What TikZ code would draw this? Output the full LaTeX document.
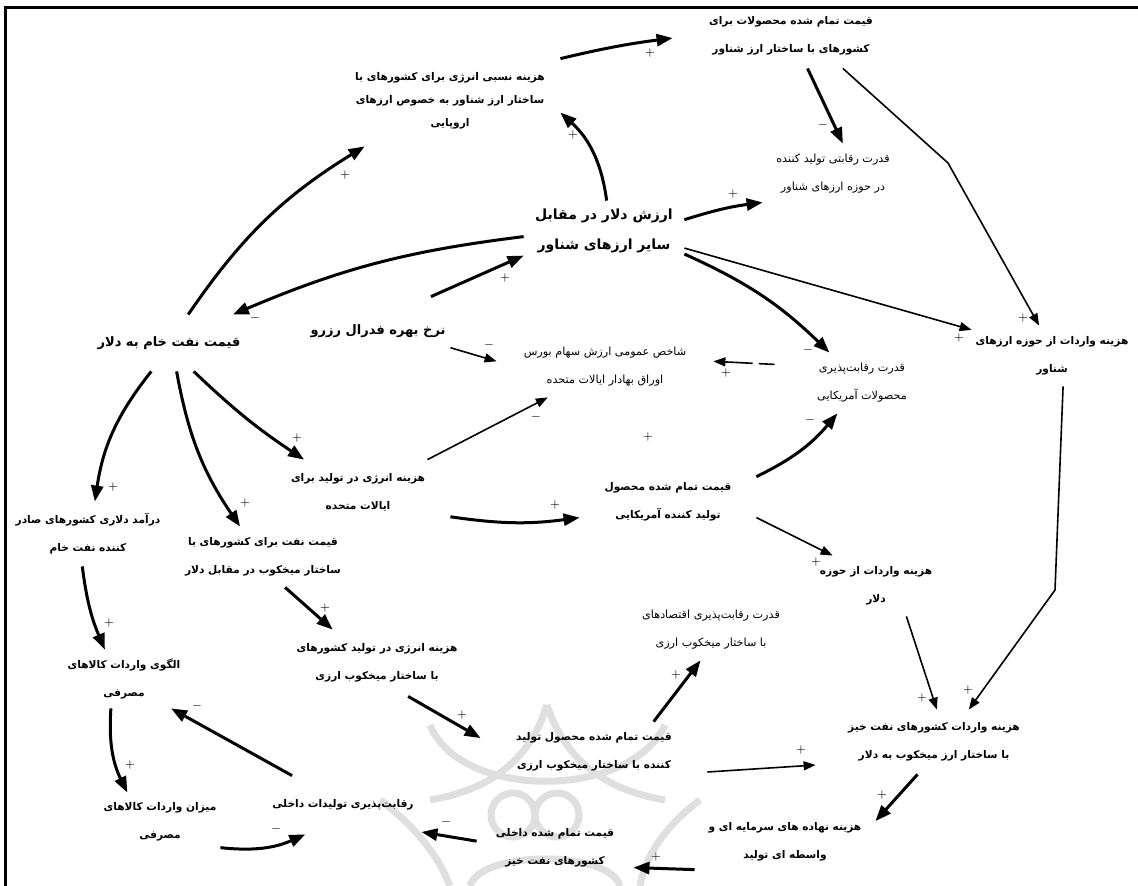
\documentclass[tikz,border=0pt]{standalone}
\usepackage{fontspec}
\newfontfamily\arabicfont[Script=Arabic]{DejaVu Sans}
\TeXXeTstate=1
\usetikzlibrary{arrows.meta}
\newcommand{\fa}[1]{\beginR #1\endR}

\begin{document}
\begin{tikzpicture}[x=0.5pt,y=-0.5pt,
	var/.style={inner sep=0pt, align=center, font=\arabicfont\fontsize{5.6}{14}\selectfont},
	varb/.style={inner sep=0pt, align=center, font=\arabicfont\bfseries\fontsize{5.3}{14}\selectfont},
	varbig/.style={inner sep=0pt, align=center, font=\arabicfont\bfseries\fontsize{7}{15}\selectfont},
	box/.style 2 args={minimum width=#1pt, minimum height=#2pt},
	bigarrow/.style={line width=1.5pt, -{Triangle[length=8pt,width=6pt]}},
	thinarrow/.style={line width=0.8pt, -{Triangle[length=6pt,width=4.5pt]}},
	sign/.style={inner sep=0pt, font=\fontsize{5}{5}\selectfont},
	watermark/.style={draw=gray!25, line width=3.5pt}]
	\useasboundingbox (0,0) rectangle (1138,886);
	\fill[white] (0,0) rectangle (1138,886);

	\draw[watermark] (547,705) .. controls (530,760) and (490,790) .. (430,800);
	\draw[watermark] (547,705) .. controls (565,760) and (605,790) .. (665,800);
	\draw[watermark] (430,725) .. controls (460,800) and (630,800) .. (665,725);
	\draw[watermark] (513,815) circle (22);
	\draw[watermark] (557,815) circle (22);
	\draw[watermark] (380,800) .. controls (420,830) and (440,860) .. (450,886);
	\draw[watermark] (700,800) .. controls (660,830) and (645,860) .. (640,886);
	\draw[watermark] (470,886) .. controls (480,850) and (610,850) .. (620,886);

	\draw[line width=1.5pt] (5,886) -- (5,8) -- (1138,8);

	\node[varb, box={118}{32}] (floatprice) at (791,36) {\fa{قیمت تمام شده محصولات برای}\\\fa{کشورهای با ساختار ارز شناور}};
	\node[varb, box={110}{45}, font=\arabicfont\bfseries\fontsize{5.3}{11.5}\selectfont] (energyfloat) at (450,101) {\fa{هزینه نسبی انرژی برای کشورهای با}\\\fa{ساختار ارز شناور به خصوص ارزهای}\\\fa{اروپایی}};
	\node[var, box={70}{30}] (compfloat) at (833,174) {\fa{قدرت رقابتی تولید کننده}\\\fa{در حوزه ارزهای شناور}};
	\node[varbig, box={80}{30}] (dollar) at (604,231) {\fa{ارزش دلار در مقابل}\\\fa{سایر ارزهای شناور}};
	\node[varbig, box={75}{28}, font=\arabicfont\bfseries\fontsize{6.5}{14}\selectfont] (oil) at (169,343) {\fa{قیمت نفت خام به دلار}};
	\node[varbig, box={72}{34}, font=\arabicfont\bfseries\fontsize{6.5}{14}\selectfont] (fed) at (378,331) {\fa{نرخ بهره فدرال رزرو}};
	\node[var, box={108}{30}] (stock) at (605,367) {\fa{شاخص عمومی ارزش سهام بورس}\\\fa{اوراق بهادار ایالات متحده}};
	\node[var, box={87}{30}] (compus) at (862,383) {\fa{قدرت رقابت‌پذیری}\\\fa{محصولات آمریکایی}};
	\node[varb, box={80}{30}] (impfloat) at (1052,356) {\fa{هزینه واردات از حوزه ارزهای}\\\fa{شناور}};
	\node[varb, box={92}{32}] (energyus) at (358,492) {\fa{هزینه انرژی در تولید برای}\\\fa{ایالات متحده}};
	\node[varb, box={88}{30}] (priceus) at (668,502) {\fa{قیمت تمام شده محصول}\\\fa{تولید کننده آمریکایی}};
	\node[varb, box={80}{32}] (oilincome) at (88,534) {\fa{درآمد دلاری کشورهای صادر}\\\fa{کننده نفت خام}};
	\node[varb, box={82}{30}] (oilpeg) at (263,557) {\fa{قیمت نفت برای کشورهای با}\\\fa{ساختار میخکوب در مقابل دلار}};
	\node[varb, box={62}{30}] (impdollar) at (876,586) {\fa{هزینه واردات از حوزه}\\\fa{دلار}};
	\node[var, box={80}{30}] (comppeg) at (711,630) {\fa{قدرت رقابت‌پذیری اقتصادهای}\\\fa{با ساختار میخکوب ارزی}};
	\node[varb, box={85}{33}] (energypeg) at (377,663) {\fa{هزینه انرژی در تولید کشورهای}\\\fa{با ساختار میخکوب ارزی}};
	\node[varb, box={65}{29}] (pattern) at (124,679) {\fa{الگوی واردات کالاهای}\\\fa{مصرفی}};
	\node[varb, box={113}{30}] (pricepeg) at (594,752) {\fa{قیمت تمام شده محصول تولید}\\\fa{کننده با ساختار میخکوب ارزی}};
	\node[varb, box={118}{32}] (imppeg) at (934,742) {\fa{هزینه واردات کشورهای نفت خیز}\\\fa{با ساختار ارز میخکوب به دلار}};
	\node[varb, box={60}{29}] (volume) at (160,822) {\fa{میزان واردات کالاهای}\\\fa{مصرفی}};
	\node[varb, box={78}{29}] (domcomp) at (343,805) {\fa{رقابت‌پذیری تولیدات داخلی}};
	\node[varb, box={78}{25}] (domprice) at (555,848) {\fa{قیمت تمام شده داخلی}\\\fa{کشورهای نفت خیز}};
	\node[varb, box={90}{28}] (inputs) at (785,842) {\fa{هزینه نهاده های سرمایه ای و}\\\fa{واسطه ای تولید}};

	\coordinate (kneeA) at (948,163);
	\coordinate (kneeI) at (1055,590);

	\draw[bigarrow] (energyfloat.21) to[bend left=3] (floatprice.181);
	\draw[bigarrow] (floatprice.-63) -- (compfloat.72);
	\draw[thinarrow] (floatprice.-32) -- (kneeA) -- (impfloat.113);
	\draw[bigarrow] (dollar.85) to[bend right=20] (energyfloat.-6);
	\draw[bigarrow] (dollar.8) to[bend left=5] (compfloat.202);
	\draw[bigarrow] (dollar.184) to[bend right=8] (oil.24);
	\draw[bigarrow] (fed.33) -- (dollar.197);
	\draw[bigarrow] (dollar.-16) to[bend left=10] (compus.137);
	\draw[thinarrow] (dollar.-12) -- (impfloat.162);
	\draw[bigarrow] (oil.56) to[bend left=12] (energyfloat.208);
	\draw[thinarrow] (fed.-13) -- (stock.177);
	\draw[thinarrow, dash pattern=on 8pt off 3pt on 60pt off 0pt] (compus.168) -- (stock.3);
	\draw[thinarrow] (energyus.25) -- (stock.208);
	\draw[bigarrow] (priceus.16) to[bend right=12] (compus.231);
	\draw[bigarrow] (oil.238) to[bend right=15] (oilincome.78);
	\draw[bigarrow] (oil.-75) to[bend right=12] (oilpeg.127);
	\draw[bigarrow] (oil.-49) to[bend right=5] (energyus.149);
	\draw[bigarrow] (energyus.-15) to[bend right=8] (priceus.190);
	\draw[thinarrow] (priceus.-10) -- (impdollar.145);
	\draw[thinarrow] (impfloat.-70) -- (kneeI) -- (imppeg.43);
	\draw[thinarrow] (impdollar.-45) -- (imppeg.85);
	\draw[bigarrow] (oilpeg.-54) -- (energypeg.143);
	\draw[bigarrow] (oilincome.260) to[bend right=8] (pattern.123);
	\draw[bigarrow] (energypeg.-47) -- (pricepeg.173);
	\draw[bigarrow] (pricepeg.27) -- (comppeg.251);
	\draw[thinarrow] (pricepeg.-10) -- (imppeg.191);
	\draw[bigarrow] (imppeg.243) -- (inputs.13);
	\draw[bigarrow] (inputs.197) -- (domprice.-14);
	\draw[bigarrow] (domprice.175) -- (domcomp.-19);
	\draw[bigarrow] (domcomp.150) -- (pattern.-32);
	\draw[bigarrow] (pattern.246) to[bend right=15] (volume.138);
	\draw[bigarrow] (volume.-23) to[bend right=15] (domcomp.218);

	\foreach \x/\y/\s [count=\i] in {650/53/+, 823/125/-, 1023/318/+, 573/135/+, 733/194/+, 255/318/-, 505/278/+, 808/350/-, 959/338/+, 345/175/+, 489/345/-, 726/373/+, 536/417/-, 810/420/-, 113/487/+, 245/503/+, 297/438/+, 555/505/+, 816/562/+, 968/690/+, 922/698/+, 325/608/+, 109/623/+, 462/715/+, 676/675/+, 801/750/+, 882/795/+, 656/857/+, 446/822/-, 197/706/-, 130/765/+, 276/829/-, 648/437/+}
	{
		\node[sign] (sign\i) at (\x,\y) {$\s$};
	}
\end{tikzpicture}
\end{document}
